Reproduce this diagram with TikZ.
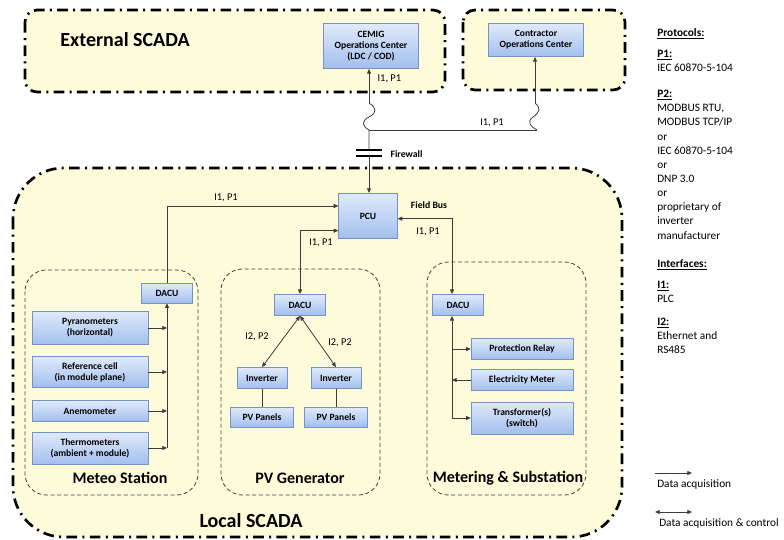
\documentclass[tikz,border=0pt]{standalone}
\usepackage{fontspec}
\setmainfont{Carlito}
\usetikzlibrary{arrows.meta,shadows}
\definecolor{scadayellow}{RGB}{253,251,217}
\definecolor{unittop}{RGB}{224,234,251}
\definecolor{unitbottom}{RGB}{162,191,237}
\definecolor{unitline}{RGB}{118,146,196}
\definecolor{linkgray}{RGB}{60,60,60}

\begin{document}
\begin{tikzpicture}[x=0.75pt,y=-0.75pt,
    scada/.style={draw=black, fill=scadayellow, line width=2pt,
        dash pattern=on 8pt off 4pt on 1.5pt off 4pt},
    group/.style={draw=black!75, line width=0.6pt, dash pattern=on 3pt off 2pt,
        rounded corners=16pt},
    unit/.style={draw=unitline, top color=unittop, bottom color=unitbottom,
        inner sep=1pt, align=center, font=\fontsize{7.2}{8.4}\selectfont\bfseries,
        drop shadow={opacity=0.2, shadow xshift=0.6pt, shadow yshift=-0.6pt}},
    sensor/.style={unit, minimum width=87pt},
    link/.style={draw=linkgray, line width=0.6pt},
    arr/.style={link, -{Triangle[length=3.5pt,width=3pt]}},
    darr/.style={link, {Triangle[length=3.5pt,width=3pt]}-{Triangle[length=3.5pt,width=3pt]}},
    plate/.style={draw=black, line width=1.5pt},
    lbl/.style={inner sep=1pt, font=\fontsize{7.8}{9}\selectfont},
    tag/.style={inner sep=1pt, font=\fontsize{7.3}{8}\selectfont\bfseries},
    title/.style={inner sep=0pt, font=\fontsize{15}{17}\selectfont\bfseries},
    sub/.style={inner sep=0pt, font=\fontsize{12}{14}\selectfont\bfseries},
    legend/.style={inner sep=0pt, anchor=north west, align=left,
        font=\fontsize{8.5}{10.6}\selectfont}]
    \useasboundingbox (0,0) rectangle (784,539);

    % scada areas
    \draw[scada, rounded corners=9pt] (25,10) rectangle (445,92);
    \draw[scada, rounded corners=9pt] (463,10) rectangle (625,90);
    \draw[scada, rounded corners=38pt] (13,168) rectangle (622,537);
    \draw[group] (25,270) rectangle (198,495);
    \draw[group] (221,269) rectangle (380,495);
    \draw[group] (427,262) rectangle (586,495);

    \node[title] (ext) at (125,40) {External SCADA};
    \node[title] (loc) at (251,521) {Local SCADA};
    \node[sub] (meteo) at (120,478) {Meteo Station};
    \node[sub] (pvgen) at (300,478) {PV Generator};
    \node[sub] (subst) at (508,478) {Metering \& Substation};

    % operations centers and PCU
    \node[unit, minimum width=71pt, minimum height=34pt] (cemig) at (371,46) {CEMIG\\Operations Center\\(LDC / COD)};
    \node[unit, minimum width=71pt, minimum height=25pt] (contr) at (536,40) {Contractor\\Operations Center};
    \node[unit, minimum width=44pt, minimum height=34pt] (pcu) at (368,216) {PCU};

    % meteo station
    \node[unit, minimum width=38pt, minimum height=15pt] (dacum) at (167,293) {DACU};
    \node[sensor, minimum height=25pt] (pyra) at (90,328) {Pyranometers\\(horizontal)};
    \node[sensor, minimum height=23pt] (refcell) at (90,372) {Reference cell\\(in module plane)};
    \node[sensor, minimum height=16pt] (anemo) at (90,411) {Anemometer};
    \node[sensor, minimum height=24pt] (thermo) at (90,448) {Thermometers\\(ambient + module)};

    % pv generator
    \node[unit, minimum width=38pt, minimum height=16pt] (dacup) at (300,305) {DACU};
    \node[unit, minimum width=37.5pt, minimum height=16pt] (invl) at (262,378) {Inverter};
    \node[unit, minimum width=37.5pt, minimum height=16pt] (invr) at (336,378) {Inverter};
    \node[unit, minimum width=47pt, minimum height=15pt] (pvl) at (262,417) {PV Panels};
    \node[unit, minimum width=47pt, minimum height=15pt] (pvr) at (336,417) {PV Panels};

    % metering and substation
    \node[unit, minimum width=38pt, minimum height=16pt] (dacus) at (458,305) {DACU};
    \node[unit, minimum width=76.5pt, minimum height=16pt] (relay) at (522,349) {Protection Relay};
    \node[unit, minimum width=76.5pt, minimum height=16pt] (meter) at (522,380) {Electricity Meter};
    \node[unit, minimum width=76.5pt, minimum height=24pt] (trafo) at (522,418) {Transformer(s)\\(switch)};

    % external links
    \coordinate (zigtop) at (369,103);
    \coordinate (junct) at (369,130);
    \coordinate (fwtop) at (369,150);
    \coordinate (fwbot) at (369,156);
    \coordinate (czig) at (535,103);
    \coordinate (cjunct) at (537,130);
    \draw[arr] (zigtop) -- (zigtop |- cemig.south);
    \draw[link] (zigtop) .. controls (377,108) and (377,113) .. (369,117)
        .. controls (361,121) and (362,126) .. (junct) -- (fwtop);
    \draw[plate] ([xshift=-10pt]fwtop) -- ([xshift=10pt]fwtop);
    \draw[plate] ([xshift=-10pt]fwbot) -- ([xshift=10pt]fwbot);
    \draw[arr] (fwbot) -- (fwbot |- pcu.north);
    \draw[arr] (czig) -- (czig |- contr.south);
    \draw[link] (czig) .. controls (541,108) and (540,112) .. (533,117)
        .. controls (526,122) and (531,127) .. (cjunct);
    \draw[link] (junct) -- (cjunct);
    \node[lbl, anchor=west] (lcemig) at (376,79) {I1, P1};
    \node[lbl] (lcontr) at (492,123) {I1, P1};
    \node[tag, anchor=west] (lfire) at (389,154) {Firewall};

    % field bus
    \draw[arr] (dacum.north) |- ([yshift=7.5pt]pcu.west);
    \draw[darr] (dacup.north) |- ([yshift=-11pt]pcu.west);
    \draw[darr] ([xshift=-4.5pt]dacus.north) |- ([yshift=-2pt]pcu.east);
    \node[lbl] (lmeteo) at (226,198) {I1, P1};
    \node[lbl] (lpv) at (321,243) {I1, P1};
    \node[tag] (lbus) at (429,205) {Field Bus};
    \node[lbl] (lsub) at (428,232) {I1, P1};

    % meteo bus
    \coordinate (mbus) at (167,448);
    \draw[arr] (mbus) -- (dacum.south);
    \foreach \s in {pyra,refcell,anemo,thermo}
        \draw[arr] (\s.east) -- (\s.east -| mbus);

    % inverters
    \draw[darr] (dacup.south) -- (invl.north);
    \draw[darr] (dacup.south) -- (invr.north);
    \draw[link] (invl) -- (pvl);
    \draw[link] (invr) -- (pvr);
    \node[lbl] (lpvl) at (257,337) {I2, P2};
    \node[lbl] (lpvr) at (340,343) {I2, P2};

    % substation bus
    \coordinate (sbus) at (452,418);
    \draw[arr] (sbus) -- (sbus |- dacus.south);
    \draw[arr] (relay.west -| sbus) -- (relay.west);
    \draw[arr] (meter.west) -- (meter.west -| sbus);
    \draw[arr] (trafo.west -| sbus) -- (trafo.west);

    % legend
    \node[legend] (proto) at (657,28) {\underline{\textbf{Protocols:}}};
    \node[legend] (pone) at (657,50) {\underline{\textbf{P1:}}\\IEC 60870-5-104};
    \node[legend] (ptwo) at (657,90) {\underline{\textbf{P2:}}\\MODBUS RTU,\\MODBUS TCP/IP\\or\\IEC 60870-5-104\\or\\DNP 3.0\\or\\proprietary of\\inverter\\manufacturer};
    \node[legend] (intf) at (657,259) {\underline{\textbf{Interfaces:}}};
    \node[legend] (ione) at (657,281) {\underline{\textbf{I1:}}\\PLC};
    \node[legend] (itwo) at (657,318) {\underline{\textbf{I2:}}\\Ethernet and\\RS485};
    \coordinate (acqa) at (655,473);
    \coordinate (acqb) at (692,473);
    \coordinate (ctla) at (655,512);
    \coordinate (ctlb) at (692,512);
    \draw[arr] (acqa) -- (acqb);
    \draw[darr] (ctla) -- (ctlb);
    \node[legend, anchor=west] (tacq) at (657,484) {Data acquisition};
    \node[legend, anchor=west] (tctl) at (659,523) {Data acquisition \& control};
\end{tikzpicture}
\end{document}
